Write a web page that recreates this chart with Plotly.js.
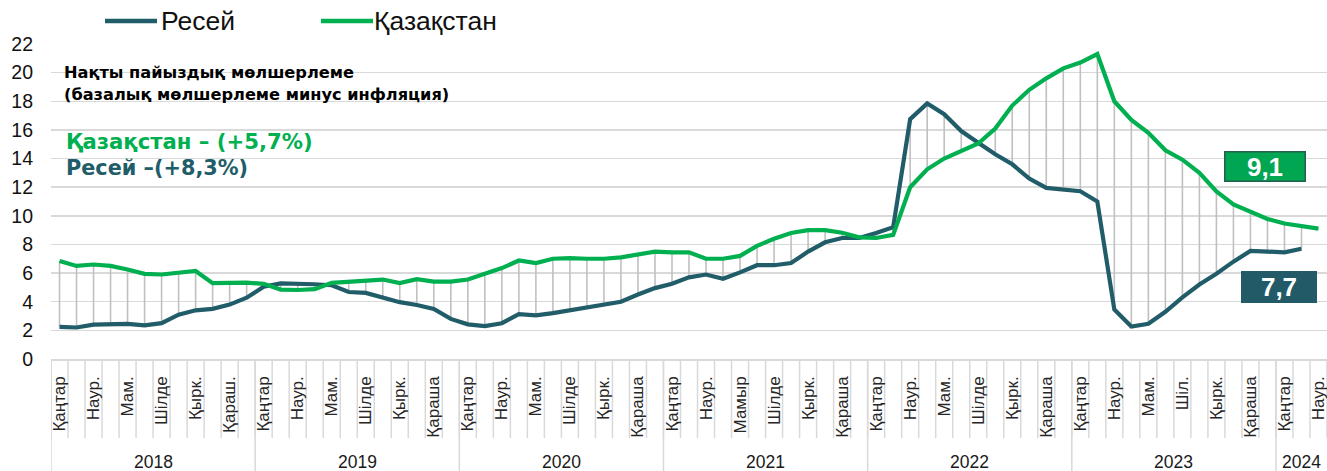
<!DOCTYPE html>
<html>
<head>
<meta charset="utf-8">
<script src="https://cdn.plot.ly/plotly-3.0.1.min.js"></script>
<style>
html,body{margin:0;padding:0;background:#fff;}
#chart{width:1327px;height:471px;}
</style>
</head>
<body>
<div id="chart"></div>
<script>
// ---- DATA ----
const years = ['2018','2019','2020','2021','2022','2023','2024'];
const monthsInYear = [12,12,12,12,12,12,3];
// labels shown on every second month (Jan, Mar, May, Jul, Sep, Nov)
const monthLabels = [
  'Қаңтар','Наур.','Мам.','Шілде','Қырк.','Қараш.',
  'Қаңтар','Наур.','Мам.','Шілде','Қырк.','Қараша',
  'Қаңтар','Наур.','Мам.','Шілде','Қырк.','Қараша',
  'Қаңтар','Наур.','Мамыр','Шілде','Қырк.','Қараша',
  'Қаңтар','Наур.','Мам.','Шілде','Қырк.','Қараша',
  'Қаңтар','Наур.','Мам.','Шіл.','Қырк.','Қараша',
  'Қаңтар','Наур.'
];
const russia = [
  2.24,2.2,2.4,2.45,2.45,2.35,2.5,3.1,3.4,3.5,3.8,4.28,
  5.05,5.28,5.28,5.22,5.15,4.68,4.62,4.3,3.97,3.77,3.5,2.8,
  2.42,2.3,2.5,3.13,3.05,3.2,3.4,3.6,3.75,4.0,4.5,4.95,
  5.25,5.7,5.9,5.6,6.05,6.55,6.55,6.7,7.5,8.15,8.45,8.45,
  8.8,9.2,16.75,17.85,17.1,15.92,15.1,14.3,13.6,12.6,11.95,11.85,
  11.72,11.0,3.45,2.27,2.46,3.3,4.3,5.2,5.95,6.8,7.55,7.5,
  7.45,7.7
];
const kazakhstan = [
  6.85,6.5,6.6,6.5,6.25,5.95,5.9,6.0,6.15,5.3,5.3,5.33,
  5.25,4.85,4.82,4.88,5.32,5.42,5.45,5.55,5.3,5.57,5.4,5.4,
  5.55,5.93,6.35,6.88,6.7,7.0,7.05,7.0,7.0,7.1,7.3,7.5,
  7.45,7.45,7.0,7.0,7.2,7.9,8.4,8.8,9.0,9.0,8.82,8.5,
  8.45,8.67,12.0,13.25,14.0,14.5,15.05,16.1,17.7,18.8,19.6,20.3,
  20.7,21.3,18.0,16.7,15.8,14.58,13.92,13.0,11.7,10.8,10.3,9.78,
  9.46,9.25,9.1
];
const seriesNames = ['Ресей','Қазақстан'];
const noteTitle = ['Нақты пайыздық мөлшерлеме','(базалық мөлшерлеме минус инфляция)'];
const noteKz = 'Қазақстан – (+5,7%)';
const noteRu = 'Ресей –(+8,3%)';

// ---- STYLE ----
const C_RU = '#215c69';
const C_KZ = '#00b050';
const GRID = '#d9d9d9';
const W = 1327, H = 471;
const M = {l:51, r:0, t:44, b:112};
const PW = W - M.l - M.r, PH = H - M.t - M.b;
const px = v => (v - M.l) / PW;        // pixel -> paper x
const py = v => (H - M.b - v) / PH;    // pixel -> paper y

const nCat = monthsInYear.reduce((a,b)=>a+b,0);
const idx = Array.from({length:nCat}, (_,i)=>i);
const tickvals = idx.filter(i => i % 2 === 0).slice(0, monthLabels.length);

// high-low drop lines between series
const dx = [], dy = [];
const nBoth = Math.min(russia.length, kazakhstan.length);
for (let i = 0; i < nBoth; i++) { dx.push(i,i,null); dy.push(russia[i], kazakhstan[i], null); }

const traces = [
  {x:dx, y:dy, mode:'lines', line:{color:'#c0c0c0', width:1.6}, hoverinfo:'skip', showlegend:false},
  {x:idx.slice(0,russia.length), y:russia, name:seriesNames[0], mode:'lines',
   line:{color:C_RU, width:4.2}, showlegend:false},
  {x:idx.slice(0,kazakhstan.length), y:kazakhstan, name:seriesNames[1], mode:'lines',
   line:{color:C_KZ, width:4.2}, showlegend:false}
];

const shapes = [];
const annotations = [];
// category separators in the axis label band, year separators full height
let start = 0;
for (let i = 0; i <= nCat; i++) {
  shapes.push({type:'line', xref:'x', yref:'paper', x0:i-0.5, x1:i-0.5, y0:0, y1:py(438),
    line:{color:GRID, width:1.5}, layer:'below'});
}
for (let k = 0; k < years.length; k++) {
  shapes.push({type:'line', xref:'x', yref:'paper', x0:start-0.5, x1:start-0.5, y0:0, y1:py(471),
    line:{color:GRID, width:1.5}, layer:'below'});
  annotations.push({xref:'x', yref:'paper', x:start + (monthsInYear[k]-1)/2, y:py(462),
    text:years[k], showarrow:false, xanchor:'center', yanchor:'middle',
    font:{family:'Liberation Sans, Arial', size:17.5, color:'#1a1a1a'}});
  start += monthsInYear[k];
}

// manual legend
const legendItems = [
  {name:seriesNames[0], color:C_RU, x0:105, x1:157, tx:159},
  {name:seriesNames[1], color:C_KZ, x0:321, x1:373, tx:372}
];
legendItems.forEach(it => {
  shapes.push({type:'line', xref:'paper', yref:'paper', x0:px(it.x0), x1:px(it.x1), y0:py(21), y1:py(21),
    line:{color:it.color, width:4.5}});
  annotations.push({xref:'paper', yref:'paper', x:px(it.tx), y:py(21), text:it.name, showarrow:false,
    xanchor:'left', yanchor:'middle', font:{family:'Liberation Sans, Arial', size:26.5, color:'#111'}});
});

// notes
annotations.push({xref:'paper', yref:'paper', x:px(62), y:py(72), text:'<b>'+noteTitle[0]+'</b>',
  showarrow:false, xanchor:'left', yanchor:'middle', font:{family:'DejaVu Sans', size:16.2, color:'#000'}});
annotations.push({xref:'paper', yref:'paper', x:px(62), y:py(94), text:'<b>'+noteTitle[1]+'</b>',
  showarrow:false, xanchor:'left', yanchor:'middle', font:{family:'DejaVu Sans', size:16.2, color:'#000'}});
annotations.push({xref:'paper', yref:'paper', x:px(64), y:py(141), text:'<b>'+noteKz+'</b>',
  showarrow:false, xanchor:'left', yanchor:'middle', font:{family:'DejaVu Sans', size:21.2, color:C_KZ}});
annotations.push({xref:'paper', yref:'paper', x:px(64), y:py(168), text:'<b>'+noteRu+'</b>',
  showarrow:false, xanchor:'left', yanchor:'middle', font:{family:'DejaVu Sans', size:20.8, color:C_RU}});

// value boxes
const fmt = v => v.toFixed(1).replace('.', ',');
annotations.push({xref:'paper', yref:'paper', x:px(1265), y:py(166.5),
  text:'<b>'+fmt(kazakhstan[kazakhstan.length-1])+'</b>', showarrow:false,
  xanchor:'center', yanchor:'middle', width:79, height:28, bgcolor:'#00a651',
  bordercolor:'#23604f', borderwidth:1.5, borderpad:0,
  font:{family:'Liberation Sans, Arial', size:26, color:'#fff'}});
annotations.push({xref:'paper', yref:'paper', x:px(1279), y:py(287),
  text:'<b>'+fmt(russia[russia.length-1])+'</b>', showarrow:false,
  xanchor:'center', yanchor:'middle', width:76, height:32, bgcolor:'#235a67',
  borderwidth:0, borderpad:0,
  font:{family:'Liberation Sans, Arial', size:26, color:'#fff'}});

const layout = {
  width:W, height:H, margin:M, paper_bgcolor:'#fff', plot_bgcolor:'#fff',
  showlegend:false,
  xaxis:{range:[-0.5, nCat-0.5], tickvals:tickvals, ticktext:monthLabels, tickangle:-90,
    tickfont:{family:'Liberation Sans, Arial', size:17, color:'#262626'},
    showgrid:false, zeroline:false, showline:true, linecolor:GRID, linewidth:1.5,
    ticks:'', ticklabelstandoff:9, ticklabeloverflow:'allow', fixedrange:true},
  yaxis:{range:[0,22], dtick:2, tick0:0, gridcolor:GRID, gridwidth:1.5, zeroline:false, showline:false,
    tickfont:{family:'Liberation Sans, Arial', size:19.5, color:'#111'}, ticks:'',
    ticklabelstandoff:17, fixedrange:true},
  shapes:shapes, annotations:annotations
};
Plotly.newPlot('chart', traces, layout, {displayModeBar:false, staticPlot:true});
</script>
</body>
</html>
